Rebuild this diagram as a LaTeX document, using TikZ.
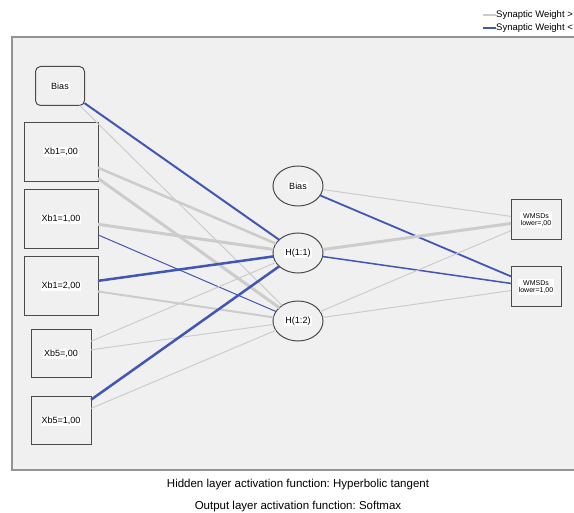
\documentclass[tikz,border=0pt]{standalone}
\usepackage{fontspec}
\setmainfont{Liberation Sans}
\usetikzlibrary{shapes.geometric}
\frenchspacing

\definecolor{wpos}{RGB}{204,204,204}
\definecolor{wneg}{RGB}{66,86,180}
\definecolor{panel}{RGB}{240,240,240}
\definecolor{rim}{RGB}{75,75,75}

\tikzset{
  unit/.style={draw=rim,line width=1pt,inner sep=0pt,outer sep=0pt},
  tag/.style={fill=white,inner sep=1pt,font=\fontsize{9}{10}\selectfont},
  inbox/.style={unit,minimum width=74pt,minimum height=59pt,label={[tag]center:{#1}}},
  smallbox/.style={unit,minimum width=60pt,minimum height=48pt,label={[tag]center:{#1}}},
  biasbox/.style={unit,rounded corners=5pt,minimum width=49pt,minimum height=39pt,label={[tag]center:{#1}}},
  hid/.style={unit,ellipse,minimum width=50pt,minimum height=40pt,label={[tag]center:{#1}}},
  outbox/.style={unit,minimum width=50pt,minimum height=40pt,
    label={[tag,font=\fontsize{7}{7.5}\selectfont,align=center]center:{#1}}},
  pos/.style={draw=wpos,line width=#1},
  neg/.style={draw=wneg,line width=#1},
  pos/.default=1pt,
  neg/.default=1pt
}

\begin{document}
\begin{tikzpicture}[x=1pt,y=-1pt,line cap=butt]
\useasboundingbox (0,0) rectangle (574,513);
\clip (0,0) rectangle (574,513);
% panel
\draw[fill=panel,draw=gray!85,line width=1.5pt] (12,37) rectangle (590,470);

% input layer
\node[biasbox=Bias] (b0) at (60,86) {};
\node[inbox={Xb1=,00}] (x1) at (61,152) {};
\node[inbox={Xb1=1,00}] (x2) at (61,219) {};
\node[inbox={Xb1=2,00}] (x3) at (61,286) {};
\node[smallbox={Xb5=,00}] (x4) at (61,354) {};
\node[smallbox={Xb5=1,00}] (x5) at (61,421) {};

% hidden layer
\node[hid=Bias] (b1) at (298,186) {};
\node[hid={H(1:1)}] (h1) at (298,253) {};
\node[hid={H(1:2)}] (h2) at (298,321) {};

% output layer
\node[outbox={WMSDs\\lower=,00}] (y1) at (536,220) {};
\node[outbox={WMSDs\\lower=1,00}] (y2) at (536,287) {};

% input -> hidden
\draw[neg=2pt] (b0) -- (h1);
\draw[pos] (b0) -- (h2);
\draw[pos=2.5pt] (x1) -- (h1);
\draw[pos=3pt] (x1) -- (h2);
\draw[pos=3pt] (x2) -- (h1);
\draw[neg] (x2) -- (h2);
\draw[neg=2.5pt] (x3) -- (h1);
\draw[pos=2pt] (x3) -- (h2);
\draw[pos] (x4) -- (h1);
\draw[pos] (x4) -- (h2);
\draw[neg=2.5pt] (x5) -- (h1);
\draw[pos] (x5) -- (h2);

% hidden -> output
\draw[pos] (b1) -- (y1);
\draw[neg=1.8pt] (b1) -- (y2);
\draw[pos=3pt] (h1) -- (y1);
\draw[neg=1.5pt] (h1) -- (y2);
\draw[pos] (h2) -- (y1);
\draw[pos] (h2) -- (y2);

% legend
\node[anchor=west,inner sep=0pt,font=\fontsize{9.5}{10}\selectfont] (lgpos) at (496,15) {Synaptic Weight >};
\node[anchor=west,inner sep=0pt,font=\fontsize{9.5}{10}\selectfont] (lgneg) at (496,28) {Synaptic Weight <};
\coordinate (lgposl) at (483,15);
\coordinate (lgnegl) at (483,28);
\draw[pos=1.2pt] (lgposl) -- (lgpos.west);
\draw[neg=1.2pt] (lgnegl) -- (lgneg.west);

% captions
\node[font=\fontsize{11.5}{12}\selectfont] (cap1) at (298,485) {Hidden layer activation function: Hyperbolic tangent};
\node[font=\fontsize{11.5}{12}\selectfont] (cap2) at (298,507) {Output layer activation function: Softmax};
\end{tikzpicture}
\end{document}
